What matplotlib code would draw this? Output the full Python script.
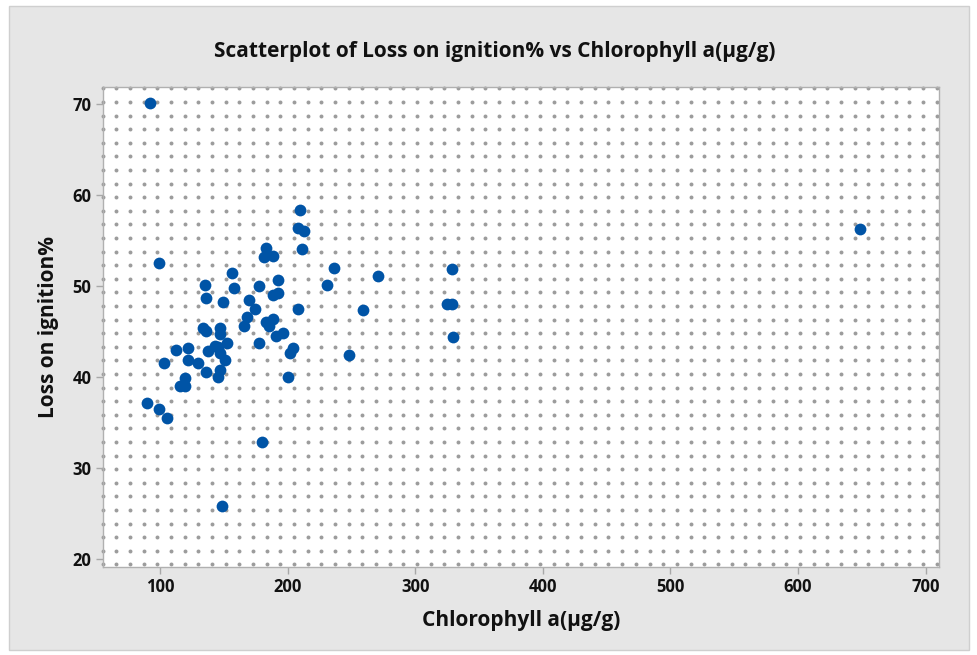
import numpy as np
import matplotlib
matplotlib.use("Agg")
import matplotlib.pyplot as plt
from matplotlib.patches import Rectangle

chlorophyll = [
    92.2, 209.7, 207.8, 212.6, 183.1, 181.5, 188.3, 211.0, 99.0, 236.6,
    156.4, 271.1, 135.0, 157.7, 177.3, 192.5, 230.9, 136.0, 149.6, 169.5,
    188.3, 192.5, 174.7, 208.1, 259.1, 168.2, 165.6, 182.8, 188.3, 185.4,
    133.4, 136.3, 147.0, 147.0, 196.1, 190.9, 177.6, 152.3, 145.7, 112.3,
    121.7, 137.6, 147.0, 204.4, 201.6, 248.3, 121.7, 150.9, 102.9, 129.5,
    136.3, 147.0, 145.7, 200.5, 119.4, 115.7, 119.6, 89.6, 99.0, 105.7,
    179.9, 148.3, 328.6, 324.6, 329.0, 329.8, 648.5, 143.1,
]
loss_on_ignition = [
    70.1, 58.36, 56.35, 56.09, 54.15, 53.16, 53.34, 54.08, 52.57, 52.0,
    51.44, 51.1, 50.16, 49.79, 49.98, 50.71, 50.16, 48.66, 48.29, 48.48,
    49.06, 49.24, 47.52, 47.52, 47.34, 46.57, 45.65, 46.03, 46.39, 45.65,
    45.43, 45.07, 45.43, 44.71, 44.88, 44.52, 43.75, 43.75, 43.35, 43.02,
    43.2, 42.84, 42.62, 43.24, 42.62, 42.47, 41.89, 41.89, 41.52, 41.52,
    40.6, 40.79, 40.02, 40.05, 39.91, 39.07, 39.07, 37.2, 36.47, 35.55,
    32.9, 25.85, 51.85, 48.07, 48.07, 44.38, 56.27, 43.4,
]
x_ticks = [100, 200, 300, 400, 500, 600, 700]
y_ticks = [20, 30, 40, 50, 60, 70]

W, H = 978, 655
plt.rcParams['font.family'] = ['Open Sans', 'DejaVu Sans']

fig = plt.figure(figsize=(W / 100, H / 100), dpi=100)
fig.patch.set_facecolor("white")

# gray Minitab style panel
panel = Rectangle((9 / W, 1 - 650 / H), 960 / W, 644 / H,
                  transform=fig.transFigure, facecolor="#e6e6e6",
                  edgecolor="#cfcfcf", linewidth=1, zorder=-10)
fig.add_artist(panel)

left, right, top, bottom = 102.7, 939.3, 87, 567.3
ax = fig.add_axes([left / W, 1 - bottom / H, (right - left) / W, (bottom - top) / H])
ax.set_facecolor("white")

# dotted background pattern (pixel spaced, like Minitab)
aw, ah = right - left, bottom - top
gx = np.arange(0, 62) * 13.67 / aw
gy = 1 - (1.3 + np.arange(36) * 13.6) / ah
GX, GY = np.meshgrid(gx, gy)
ax.scatter(GX.ravel(), GY.ravel(), s=8, color="#9c9c9c", linewidths=0,
           transform=ax.transAxes, zorder=1, clip_on=False)

ax.scatter(chlorophyll, loss_on_ignition, s=72, color="#0054a6",
           linewidths=0, zorder=3)

ax.set_xlim(55.1, 710.7)
ax.set_ylim(19.12, 71.87)
ax.set_xticks(x_ticks)
ax.set_yticks(y_ticks)
ax.tick_params(length=5, width=1, color="#a8a8a8", labelsize=12, pad=3,
               labelcolor="#111111")
for lab in ax.get_xticklabels() + ax.get_yticklabels():
    lab.set_fontweight("bold")
for sp in ax.spines.values():
    sp.set_color("#b0b0b0")
    sp.set_linewidth(1)

ax.set_xlabel("Chlorophyll a(µg/g)", fontsize=15, fontweight="bold",
              labelpad=10, color="#111111")
ax.set_ylabel("Loss on ignition%", fontsize=15, fontweight="bold",
              labelpad=10, color="#111111")
fig.text(0.506, 1 - 52 / H, "Scatterplot of Loss on ignition% vs Chlorophyll a(µg/g)",
         ha="center", va="center", fontsize=15, fontweight="bold",
         color="#111111")

plt.savefig("out.png", dpi=100)
